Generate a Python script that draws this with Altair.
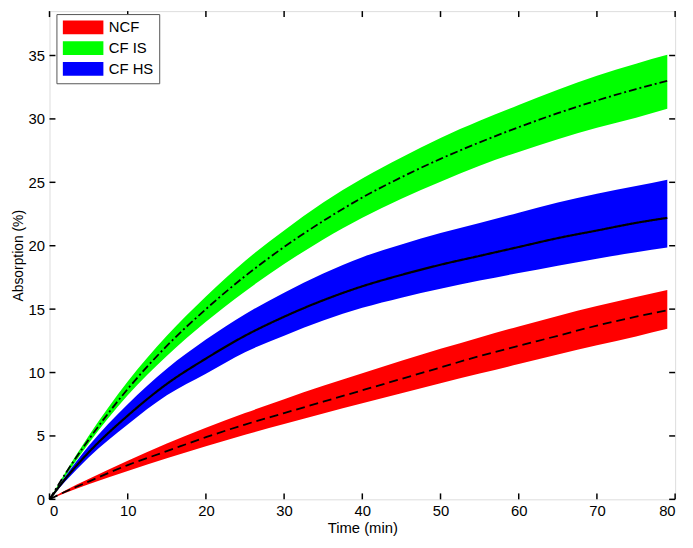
import altair as alt
import pandas as pd

# time points (min)
t = [0, 2, 5, 10, 15, 20, 25, 30, 35, 40, 45, 50, 55, 60, 65, 70, 75, 79]

# NCF
ncf_mid = [0, 0.6, 1.4, 2.7, 3.8, 4.9, 5.9, 6.8, 7.7, 8.6, 9.5, 10.4, 11.3, 12.1, 12.9, 13.7, 14.4, 14.9]
ncf_hi = [0, 0.7, 1.6, 3.05, 4.4, 5.65, 6.8, 7.9, 8.95, 9.95, 10.93, 11.87, 12.77, 13.64, 14.46, 15.24, 15.96, 16.5]
ncf_lo = [0, 0.5, 1.19, 2.24, 3.24, 4.19, 5.09, 5.94, 6.77, 7.57, 8.37, 9.15, 9.92, 10.67, 11.42, 12.15, 12.85, 13.45]

# CF IS
cfis_mid = [0, 2.0, 4.7, 8.7, 12.1, 15.0, 17.6, 19.9, 21.95, 23.8, 25.4, 26.85, 28.15, 29.35, 30.45, 31.45, 32.35, 33.0]
cfis_hi = [0, 2.1, 5.0, 9.3, 12.9, 16.0, 18.8, 21.2, 23.4, 25.3, 26.95, 28.5, 29.85, 31.1, 32.3, 33.4, 34.35, 35.05]
cfis_lo = [0, 1.8, 4.4, 8.2, 11.3, 14.0, 16.4, 18.55, 20.5, 22.2, 23.7, 25.05, 26.3, 27.4, 28.4, 29.3, 30.1, 30.8]

# CF HS
cfhs_mid = [0, 1.6, 3.7, 6.6, 9.1, 11.1, 12.9, 14.4, 15.7, 16.8, 17.7, 18.5, 19.2, 19.9, 20.6, 21.2, 21.8, 22.2]
cfhs_hi = [0, 1.8, 4.2, 7.5, 10.3, 12.6, 14.6, 16.3, 17.8, 19.1, 20.1, 21.0, 21.8, 22.6, 23.4, 24.1, 24.7, 25.2]
cfhs_lo = [0, 1.4, 3.3, 5.9, 8.2, 9.9, 11.6, 12.9, 14.1, 15.1, 15.9, 16.6, 17.25, 17.85, 18.43, 18.98, 19.48, 19.85]

series = ["NCF", "CF IS", "CF HS"]
colors = ["#ff0000", "#00ff00", "#0000ff"]
x_ticks = [0, 10, 20, 30, 40, 50, 60, 70, 80]
y_ticks = [0, 5, 10, 15, 20, 25, 30, 35]

rows = []
for name, mid, hi, lo in [("NCF", ncf_mid, ncf_hi, ncf_lo),
                          ("CF IS", cfis_mid, cfis_hi, cfis_lo),
                          ("CF HS", cfhs_mid, cfhs_hi, cfhs_lo)]:
    for i in range(len(t)):
        rows.append({"t": t[i], "series": name, "mid": mid[i], "hi": hi[i], "lo": lo[i]})
df = pd.DataFrame(rows)

W, H = 633, 494
FONT = "Liberation Sans"

xs = alt.Scale(domain=[0, 80], nice=False, zero=False)
ys = alt.Scale(domain=[0, 38.5], nice=False, zero=False)

xax = alt.Axis(values=x_ticks, ticks=False, grid=False, labelFontSize=15, titleFontSize=15,
               labelPadding=4, titlePadding=3, domain=False, labelColor="black",
               titleColor="black", titleFontWeight="normal", labelFont=FONT, titleFont=FONT)
yax = alt.Axis(values=y_ticks, ticks=False, grid=False, labelFontSize=15, titleFontSize=14,
               labelPadding=5, titlePadding=3, domain=False, labelColor="black",
               titleColor="black", titleFontWeight="normal", labelFont=FONT, titleFont=FONT)

area = alt.Chart(df).mark_area(opacity=1, interpolate="monotone").encode(
    x=alt.X("t:Q", scale=xs, axis=xax, title="Time (min)"),
    y=alt.Y("hi:Q", scale=ys, axis=yax, title="Absorption (%)"),
    y2="lo:Q",
    fill=alt.Fill("series:N", scale=alt.Scale(domain=series, range=colors),
                  sort=series,
                  legend=alt.Legend(title=None, orient="none", legendX=7, legendY=3,
                                    labelFontSize=15, labelFont=FONT, labelColor="black",
                                    symbolType="M-1,-1H4.86V1H-1Z", symbolSize=196,
                                    symbolStrokeWidth=0, symbolOpacity=1,
                                    strokeColor="#555555", fillColor="white",
                                    padding=6, rowPadding=5, labelOffset=32,
                                    cornerRadius=0)),
    detail="series:N",
)

def line(name, dash, width):
    return alt.Chart(df[df["series"] == name]).mark_line(
        color="black", strokeDash=dash, strokeWidth=width, interpolate="monotone"
    ).encode(x=alt.X("t:Q", scale=xs), y=alt.Y("mid:Q", scale=ys), order="t:Q")

l_ncf = line("NCF", [9, 5], 1.8)
l_is = line("CF IS", [8, 3, 2, 3], 1.8)
l_hs = line("CF HS", [1, 0], 2.2)

xt = pd.DataFrame({"v": x_ticks})
yt = pd.DataFrame({"v": y_ticks})
tick_len = 6
xb = alt.Chart(xt).mark_rule(color="black", strokeWidth=1.5).encode(
    x=alt.X("v:Q", scale=xs), y=alt.value(H), y2=alt.value(H - tick_len))
xtp = alt.Chart(xt).mark_rule(color="black", strokeWidth=1.5).encode(
    x=alt.X("v:Q", scale=xs), y=alt.value(0), y2=alt.value(tick_len))
yl = alt.Chart(yt).mark_rule(color="black", strokeWidth=1.5).encode(
    y=alt.Y("v:Q", scale=ys), x=alt.value(0), x2=alt.value(tick_len))
yr = alt.Chart(yt).mark_rule(color="black", strokeWidth=1.5).encode(
    y=alt.Y("v:Q", scale=ys), x=alt.value(W), x2=alt.value(W - tick_len))

chart = alt.layer(area, l_ncf, l_is, l_hs, xb, xtp, yl, yr).properties(
    width=W, height=H,
    autosize=alt.AutoSizeParams(type="none"),
    padding={"left": 42, "top": 0, "right": 10, "bottom": 40},
).configure_view(stroke="black", strokeWidth=1.5).configure(background="white")

chart.save("out.html", embed_options={"renderer": "svg", "actions": False})
